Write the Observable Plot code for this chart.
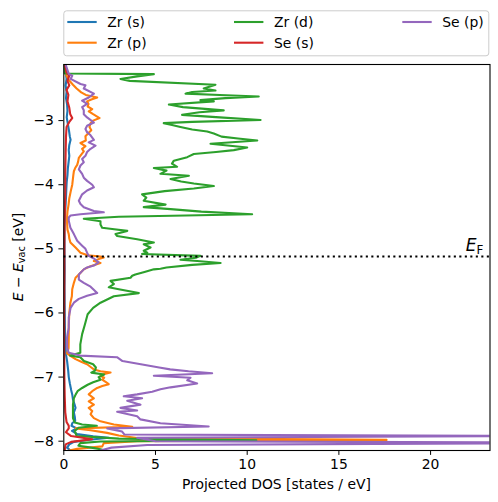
<!DOCTYPE html>
<html>
<head>
<meta charset="utf-8">
<script src="https://cdn.jsdelivr.net/npm/d3@7"></script>
<script src="https://cdn.jsdelivr.net/npm/@observablehq/plot@0.6"></script>
<style>
  html, body { margin: 0; padding: 0; background: #fff; }
  #wrap { width: 498px; height: 502px; font-family: "DejaVu Sans", sans-serif; }
  #legend { display: block; }
  #chart svg { display: block; }
  text { white-space: pre; }
</style>
</head>
<body>
<div id="wrap">
  <svg id="legend" width="498" height="60"></svg>
  <div id="chart"></div>
</div>
<script>
// ---------- chart values ----------
const energyTop = -2.125;
const energyBottom = -8.145;
const dosMax = 23.24;
const xTicks = [0, 5, 10, 15, 20];
const yTicks = [-8, -7, -6, -5, -4, -3];
const eFermi = -5.12;
const eFermiLabelDos = 22.9;

const seriesNames = ["Zr (s)", "Zr (p)", "Zr (d)", "Se (s)", "Se (p)"];
const seriesColors = ["#1f77b4", "#ff7f0e", "#2ca02c", "#d62728", "#9467bd"];

// [energy (eV), projected DOS (states/eV)]
const zrS = [[-2.125,0.05],[-2.2,0.08],[-2.27,0.12],[-2.35,0.15],[-2.45,0.1],[-2.55,0.15],[-2.65,0.12],[-2.75,0.18],[-2.85,0.2],[-2.95,0.16],[-3.05,0.22],[-3.15,0.28],[-3.25,0.33],[-3.3,0.37],[-3.38,0.3],[-3.46,0.27],[-3.55,0.3],[-3.65,0.26],[-3.75,0.22],[-3.85,0.2],[-3.95,0.16],[-4.05,0.14],[-4.2,0.12],[-4.35,0.09],[-4.5,0.06],[-4.7,0.04],[-5.0,0.04],[-5.3,0.05],[-5.6,0.04],[-5.9,0.05],[-6.2,0.06],[-6.45,0.08],[-6.65,0.12],[-6.75,0.18],[-6.9,0.24],[-7.0,0.27],[-7.1,0.33],[-7.2,0.4],[-7.27,0.46],[-7.35,0.5],[-7.42,0.58],[-7.48,0.64],[-7.55,0.55],[-7.62,0.6],[-7.68,0.62],[-7.72,0.46],[-7.76,0.42],[-7.8,0.7],[-7.84,0.45],[-7.89,0.73],[-7.925,1.6],[-7.945,2.45],[-7.965,1.8],[-7.985,1.2],[-8.01,0.55],[-8.05,0.3],[-8.1,0.18],[-8.145,0.36]];

const zrP = [[-2.125,0.05],[-2.2,0.08],[-2.28,0.12],[-2.36,0.25],[-2.44,0.5],[-2.5,0.7],[-2.56,0.95],[-2.6,1.2],[-2.64,1.82],[-2.67,1.5],[-2.7,1.27],[-2.74,1.35],[-2.78,1.3],[-2.82,1.55],[-2.855,1.36],[-2.9,1.6],[-2.96,1.95],[-3.0,1.6],[-3.04,1.46],[-3.1,1.4],[-3.15,1.5],[-3.19,1.36],[-3.245,1.18],[-3.31,1.2],[-3.35,0.91],[-3.4,1.18],[-3.44,1.0],[-3.48,1.09],[-3.53,0.95],[-3.58,0.82],[-3.64,0.78],[-3.69,0.73],[-3.74,0.62],[-3.79,0.55],[-3.85,0.52],[-3.9,0.5],[-4.0,0.46],[-4.1,0.38],[-4.21,0.3],[-4.31,0.26],[-4.42,0.2],[-4.5,0.18],[-4.6,0.18],[-4.7,0.2],[-4.77,0.27],[-4.84,0.3],[-4.9,0.36],[-4.98,0.64],[-5.06,0.91],[-5.1,1.3],[-5.12,2.0],[-5.135,2.18],[-5.16,1.9],[-5.19,1.64],[-5.22,2.0],[-5.27,1.46],[-5.32,1.09],[-5.4,0.82],[-5.45,0.64],[-5.53,0.55],[-5.63,0.46],[-5.74,0.44],[-5.84,0.36],[-6.0,0.3],[-6.2,0.27],[-6.4,0.27],[-6.55,0.26],[-6.63,0.18],[-6.67,0.36],[-6.72,0.64],[-6.76,0.95],[-6.8,1.27],[-6.85,1.5],[-6.88,1.64],[-6.91,2.0],[-6.93,2.55],[-6.96,2.1],[-6.98,2.0],[-7.01,2.2],[-7.04,2.09],[-7.08,2.3],[-7.11,2.45],[-7.14,2.1],[-7.17,1.82],[-7.22,1.55],[-7.27,1.36],[-7.3,1.5],[-7.33,1.64],[-7.38,1.36],[-7.43,1.64],[-7.48,1.36],[-7.53,1.55],[-7.58,1.46],[-7.64,1.64],[-7.69,2.0],[-7.74,2.73],[-7.775,3.73],[-7.8,0.64],[-7.83,1.46],[-7.87,2.36],[-7.91,3.0],[-7.95,4.0],[-7.98,17.6],[-8.0,4.0],[-8.03,2.18],[-8.08,2.1],[-8.12,0.73],[-8.145,0.3]];

const zrD = [[-2.125,0.03],[-2.265,0.05],[-2.275,4.91],[-2.31,4.0],[-2.35,3.09],[-2.38,3.6],[-2.44,8.27],[-2.5,7.63],[-2.53,8.27],[-2.555,7.0],[-2.58,6.64],[-2.6,8.5],[-2.625,10.63],[-2.65,8.8],[-2.68,7.45],[-2.7,8.18],[-2.75,5.73],[-2.79,6.5],[-2.84,8.72],[-2.87,7.4],[-2.91,6.45],[-2.95,8.5],[-2.99,10.73],[-3.02,7.0],[-3.04,5.45],[-3.07,5.9],[-3.1,6.36],[-3.14,7.0],[-3.17,7.82],[-3.2,8.18],[-3.25,8.6],[-3.28,9.5],[-3.31,10.55],[-3.36,8.0],[-3.42,10.0],[-3.46,9.27],[-3.49,8.3],[-3.52,7.09],[-3.57,6.73],[-3.625,6.0],[-3.67,5.9],[-3.72,6.18],[-3.74,4.91],[-3.78,5.6],[-3.83,5.27],[-3.86,6.82],[-3.91,5.82],[-3.95,6.4],[-3.98,7.09],[-4.02,8.18],[-4.06,7.09],[-4.1,5.5],[-4.15,4.27],[-4.2,4.5],[-4.25,4.36],[-4.31,5.55],[-4.35,4.36],[-4.38,5.82],[-4.42,7.5],[-4.46,10.27],[-4.5,3.0],[-4.53,1.09],[-4.57,2.0],[-4.62,2.0],[-4.67,2.09],[-4.69,2.64],[-4.72,3.46],[-4.77,2.82],[-4.8,2.91],[-4.85,4.0],[-4.9,4.91],[-4.93,4.36],[-4.98,4.73],[-5.03,4.36],[-5.06,4.55],[-5.08,4.27],[-5.11,7.45],[-5.14,7.2],[-5.17,6.36],[-5.19,7.27],[-5.22,8.55],[-5.25,7.0],[-5.29,5.6],[-5.31,5.27],[-5.32,4.91],[-5.36,4.4],[-5.4,3.9],[-5.42,3.73],[-5.45,3.64],[-5.5,2.55],[-5.55,2.73],[-5.6,2.45],[-5.63,3.0],[-5.69,4.09],[-5.74,2.73],[-5.84,2.0],[-5.92,1.6],[-6.02,1.3],[-6.18,1.15],[-6.33,1.0],[-6.49,0.9],[-6.62,0.9],[-6.665,0.35],[-6.69,0.9],[-6.75,1.1],[-6.8,1.6],[-6.85,1.75],[-6.9,1.7],[-6.93,1.5],[-6.96,2.2],[-7.0,1.9],[-7.04,2.0],[-7.08,1.6],[-7.12,1.3],[-7.17,1.0],[-7.22,0.75],[-7.27,0.65],[-7.33,0.55],[-7.43,0.5],[-7.53,0.5],[-7.64,0.5],[-7.71,0.6],[-7.74,1.0],[-7.76,1.8],[-7.79,0.8],[-7.84,0.6],[-7.92,0.7],[-7.96,3.0],[-7.985,10.5],[-8.005,2.0],[-8.03,0.9],[-8.07,0.8],[-8.1,1.5],[-8.125,2.0],[-8.145,2.2]];

const seS = [[-2.125,0.05],[-2.25,0.15],[-2.3,0.3],[-2.38,0.2],[-2.45,0.3],[-2.52,0.15],[-2.6,0.25],[-2.7,0.2],[-2.8,0.3],[-2.9,0.35],[-2.96,0.46],[-3.02,0.3],[-3.1,0.15],[-3.25,0.12],[-3.5,0.1],[-3.8,0.08],[-4.1,0.08],[-4.4,0.06],[-4.6,0.04],[-5.0,0.03],[-5.5,0.03],[-6.0,0.02],[-6.5,0.02],[-7.0,0.03],[-7.3,0.05],[-7.55,0.08],[-7.7,0.15],[-7.76,0.27],[-7.8,0.27],[-7.86,0.12],[-7.92,0.4],[-7.97,1.55],[-8.01,0.4],[-8.05,0.1],[-8.145,0.05]];

const seP = [[-2.125,0.1],[-2.27,0.27],[-2.3,0.46],[-2.35,0.37],[-2.43,0.91],[-2.45,1.18],[-2.5,1.09],[-2.58,1.64],[-2.64,1.36],[-2.69,1.0],[-2.74,1.27],[-2.79,1.0],[-2.84,1.09],[-2.9,1.09],[-2.95,1.27],[-3.03,1.64],[-3.08,1.27],[-3.13,1.18],[-3.18,1.27],[-3.23,1.46],[-3.3,1.64],[-3.34,1.36],[-3.39,1.73],[-3.44,1.46],[-3.49,1.27],[-3.55,1.18],[-3.6,1.0],[-3.65,1.09],[-3.7,0.91],[-3.76,0.82],[-3.83,1.0],[-3.89,1.09],[-3.94,1.27],[-4.0,1.55],[-4.04,1.64],[-4.09,1.27],[-4.15,1.0],[-4.2,0.91],[-4.25,0.82],[-4.3,0.91],[-4.35,1.09],[-4.41,1.64],[-4.43,2.18],[-4.46,0.91],[-4.48,0.37],[-4.51,0.27],[-4.56,0.27],[-4.67,0.36],[-4.77,0.55],[-4.875,0.73],[-4.95,1.0],[-5.0,1.18],[-5.06,1.27],[-5.11,1.36],[-5.15,1.64],[-5.21,1.9],[-5.26,1.64],[-5.29,1.27],[-5.32,1.09],[-5.4,0.82],[-5.48,0.82],[-5.53,1.09],[-5.59,1.46],[-5.69,1.82],[-5.73,1.27],[-5.78,0.82],[-5.84,0.55],[-5.92,0.37],[-6.07,0.27],[-6.23,0.27],[-6.38,0.18],[-6.54,0.18],[-6.62,0.27],[-6.665,0.9],[-6.69,2.9],[-6.75,3.2],[-6.8,4.2],[-6.85,5.2],[-6.88,5.8],[-6.91,6.8],[-6.94,8.09],[-6.98,4.91],[-7.01,6.91],[-7.05,6.73],[-7.1,7.27],[-7.16,5.82],[-7.19,5.27],[-7.23,4.82],[-7.27,4.0],[-7.3,3.27],[-7.33,4.27],[-7.37,3.46],[-7.43,4.18],[-7.48,3.09],[-7.52,4.0],[-7.54,2.91],[-7.61,4.0],[-7.66,4.18],[-7.72,5.27],[-7.77,7.9],[-7.8,2.37],[-7.85,3.18],[-7.895,3.3],[-7.92,26],[-7.945,4.0],[-8.0,5.0],[-8.025,30],[-8.06,4.55],[-8.1,2.6],[-8.145,2.0]];

const seriesData = [zrS, zrP, zrD, seS, seP];

// ---------- table for the library ----------
const rows = seriesData.flatMap((arr, i) =>
  arr.map(([e, dos]) => ({ series: seriesNames[i], e, dos })));

const W = 498, H = 442;
const mL = 63.3, mR = 8.5, mT = 4, mB = 52;
const fontFamily = '"DejaVu Sans", sans-serif';
const intFormat = d3.format("d");

const chart = Plot.plot({
  width: W, height: H,
  marginLeft: mL, marginRight: mR, marginTop: mT, marginBottom: mB,
  style: { fontFamily, fontSize: "13.9px", background: "white", color: "black" },
  x: { domain: [0, dosMax], ticks: xTicks, tickSize: 4.9, tickPadding: 4, tickFormat: intFormat, label: null },
  y: { domain: [energyBottom, energyTop], ticks: yTicks, tickSize: 4.9, tickPadding: 5, tickFormat: intFormat, label: null },
  color: { domain: seriesNames, range: seriesColors },
  marks: [
    Plot.line(rows, { x: "dos", y: "e", stroke: "series", strokeWidth: 2.1, clip: true, strokeLinejoin: "round" }),
    Plot.ruleY([eFermi], { stroke: "black", strokeWidth: 2.1, strokeDasharray: "2.1,3.4" }),
    Plot.frame({ stroke: "black", strokeWidth: 1.1 })
  ]
});
document.getElementById("chart").appendChild(chart);

// ---------- labels with math-style text ----------
const svg = d3.select(chart);
const xs = chart.scale("x"), ys = chart.scale("y");

svg.append("text")
  .attr("x", (mL + W - mR) / 2).attr("y", 429)
  .attr("text-anchor", "middle")
  .attr("font-family", fontFamily).attr("font-size", 13.9).attr("fill", "black")
  .text("Projected DOS [states / eV]");

const yl = svg.append("text")
  .attr("transform", `translate(22.7,${(mT + H - mB) / 2}) rotate(-90)`)
  .attr("text-anchor", "middle")
  .attr("font-family", fontFamily).attr("font-size", 13.9).attr("fill", "black");
yl.append("tspan").attr("font-style", "italic").text("E");
yl.append("tspan").text("\u00a0\u2212\u00a0");
yl.append("tspan").attr("font-style", "italic").text("E");
yl.append("tspan").attr("font-size", 9.7).attr("dy", 2.6).text("vac");
yl.append("tspan").attr("dy", -2.6).text("\u00a0[eV]");

const ef = svg.append("text")
  .attr("x", xs.apply(eFermiLabelDos)).attr("y", ys.apply(eFermi) - 5)
  .attr("text-anchor", "end")
  .attr("font-family", fontFamily).attr("font-size", 17).attr("fill", "black");
ef.append("tspan").attr("font-style", "italic").text("E");
ef.append("tspan").attr("font-size", 11.9).attr("dy", 2.8).text("F");

// ---------- legend ----------
const lg = d3.select("#legend");
lg.append("rect")
  .attr("x", 63.8).attr("y", 10.8).attr("width", 425).attr("height", 45)
  .attr("rx", 2.8).attr("fill", "white").attr("fill-opacity", 0.8)
  .attr("stroke", "#cccccc").attr("stroke-width", 1);
const colX = [67.3, 234, 402.3];
const rowY = [22, 42.7];
seriesNames.forEach((name, i) => {
  const c = Math.floor(i / 2), r = i % 2;
  lg.append("line")
    .attr("x1", colX[c]).attr("x2", colX[c] + 29.4)
    .attr("y1", rowY[r]).attr("y2", rowY[r])
    .attr("stroke", seriesColors[i]).attr("stroke-width", 2.1);
  lg.append("text")
    .attr("x", colX[c] + 40).attr("y", rowY[r] + 5.2)
    .attr("font-family", fontFamily).attr("font-size", 13.9).attr("fill", "black")
    .text(name);
});
</script>
</body>
</html>
